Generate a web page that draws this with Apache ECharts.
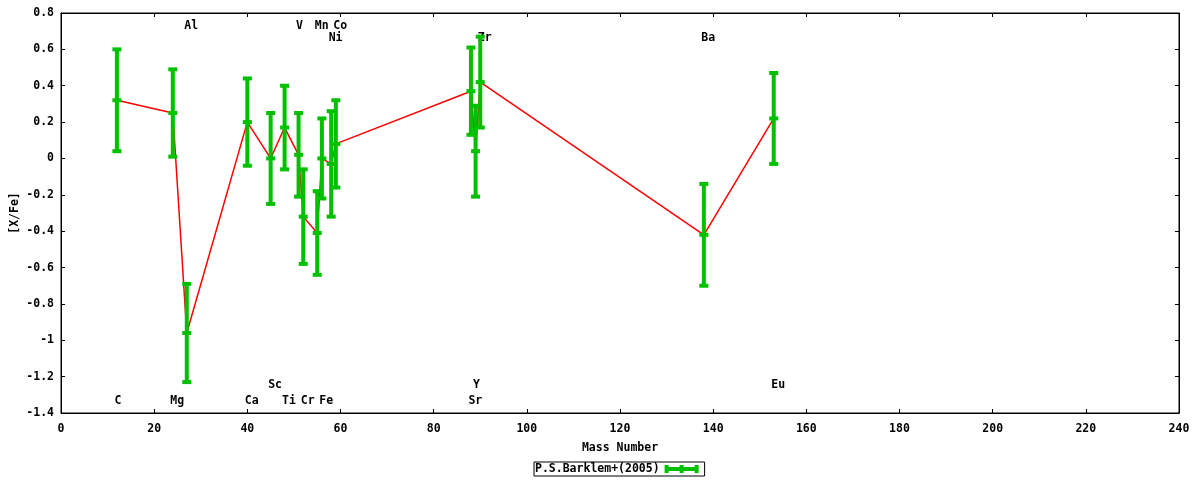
<!DOCTYPE html>
<html>
<head>
<meta charset="utf-8">
<title>[X/Fe] vs Mass Number</title>
<script src="https://cdn.jsdelivr.net/npm/echarts@6/dist/echarts.min.js"></script>
<style>
  html, body { margin: 0; padding: 0; background: #fff; }
  #chart { width: 1200px; height: 480px; }
</style>
</head>
<body>
<div id="chart"></div>
<script>
// element data
const elements = ['C', 'Mg', 'Al', 'Ca', 'Sc', 'Ti', 'V', 'Cr', 'Mn', 'Fe', 'Ni', 'Co', 'Sr', 'Y', 'Zr', 'Ba', 'Eu'];
const massNumber = [12, 24, 27, 40, 45, 48, 51, 52, 55, 56, 58, 59, 88, 89, 90, 138, 153];
const xFe = [0.32, 0.25, -0.96, 0.20, 0.00, 0.17, 0.02, -0.32, -0.41, 0.00, -0.03, 0.08, 0.37, 0.04, 0.42, -0.42, 0.22];
const xFeErr = [0.28, 0.24, 0.27, 0.24, 0.25, 0.23, 0.23, 0.26, 0.23, 0.22, 0.29, 0.24, 0.24, 0.25, 0.25, 0.28, 0.25];
// which label row each element name sits in
const labelRow = ['bot2', 'bot2', 'top1', 'bot2', 'bot1', 'bot2', 'top1', 'bot2', 'top1', 'bot2', 'top2', 'top1', 'bot2', 'bot1', 'top2', 'top2', 'bot1'];
const seriesName = 'P.S.Barklem+(2005)';

const rowY = { top1: 0.727, top2: 0.664, bot1: -1.246, bot2: -1.336 };
const FONT = 'bold 11.5px "DejaVu Sans Mono"';
const GREEN = '#00c000';

const chart = echarts.init(document.getElementById('chart'));

const pts = massNumber.map((m, i) => [m, xFe[i], xFeErr[i]]);
const labelPts = massNumber.map((m, i) => [m, rowY[labelRow[i]], elements[i]]);

const txt = { fontFamily: 'DejaVu Sans Mono', fontWeight: 'bold', fontSize: 11.5, color: '#000' };

const xBase = { type: 'value', min: 0, max: 240, interval: 20, splitLine: { show: false } };
const yBase = { type: 'value', min: -1.4, max: 0.8, interval: 0.2, splitLine: { show: false } };
const lineStyle = { color: '#000', width: 1 };
const axisLine = { onZero: false, lineStyle };

const option = {
  animation: false,
  backgroundColor: '#fff',
  grid: {
    left: 61, right: 21, top: 13, bottom: 67,
    outerBoundsMode: 'none',
    show: true, borderColor: '#000', borderWidth: 1
  },
  legend: {
    left: 534,
    top: 462,
    align: 'right',
    padding: [1, 6, 1, 1],
    borderColor: '#000',
    borderWidth: 1,
    itemWidth: 34,
    itemHeight: 8,
    textStyle: txt,
    data: [{
      name: seriesName,
      icon: 'path://M0,2 H34 V6 H0 Z M0,0 H4 V8 H0 Z M30,0 H34 V8 H30 Z M15,0 H19 V8 H15 Z',
      itemStyle: { color: GREEN }
    }]
  },
  xAxis: [
    Object.assign({}, xBase, {
      position: 'bottom',
      name: 'Mass Number',
      nameLocation: 'middle',
      nameGap: 29,
      nameMoveOverlap: false,
      nameTextStyle: txt,
      axisLine,
      axisTick: { inside: true, length: 4, lineStyle },
      axisLabel: Object.assign({ margin: 10 }, txt)
    }),
    Object.assign({}, xBase, {
      position: 'top',
      axisLine,
      axisTick: { inside: true, length: 4, lineStyle },
      axisLabel: { show: false }
    })
  ],
  yAxis: [
    Object.assign({}, yBase, {
      position: 'left',
      name: '[X/Fe]',
      nameLocation: 'middle',
      nameGap: 40,
      nameMoveOverlap: false,
      nameRotate: 90,
      nameTextStyle: txt,
      axisLine,
      axisTick: { inside: true, length: 4, lineStyle },
      axisLabel: Object.assign({ margin: 7 }, txt)
    }),
    Object.assign({}, yBase, {
      position: 'right',
      axisLine,
      axisTick: { inside: true, length: 4, lineStyle },
      axisLabel: { show: false }
    })
  ],
  series: [
    {
      // element names
      type: 'custom',
      name: 'labels',
      z: 1,
      data: labelPts,
      renderItem: function (params, api) {
        const p = api.coord([api.value(0), api.value(1)]);
        return {
          type: 'text',
          x: p[0] - 2.5,
          y: p[1],
          style: { text: labelPts[params.dataIndex][2], font: FONT, fill: '#000', align: 'left', verticalAlign: 'middle' }
        };
      }
    },
    {
      // connecting line
      type: 'line',
      name: 'trend',
      z: 2,
      data: pts.map(p => [p[0], p[1]]),
      symbol: 'none',
      lineStyle: { color: '#ff0000', width: 1.5 },
      silent: true
    },
    {
      type: 'custom',
      name: seriesName,
      z: 3,
      data: pts,
      itemStyle: { color: GREEN },
      renderItem: function (params, api) {
        const x = api.value(0), y = api.value(1), e = api.value(2);
        const c = api.coord([x, y]);
        const hi = api.coord([x, y + e]);
        const lo = api.coord([x, y - e]);
        const cap = (py) => ({ type: 'rect', shape: { x: c[0] - 4.5, y: py - 2, width: 9, height: 4 }, style: { fill: GREEN } });
        return {
          type: 'group',
          children: [
            { type: 'rect', shape: { x: c[0] - 2, y: hi[1], width: 4, height: lo[1] - hi[1] }, style: { fill: GREEN } },
            cap(hi[1]),
            cap(lo[1]),
            cap(c[1])
          ]
        };
      }
    }
  ]
};

chart.setOption(option);
</script>
</body>
</html>
